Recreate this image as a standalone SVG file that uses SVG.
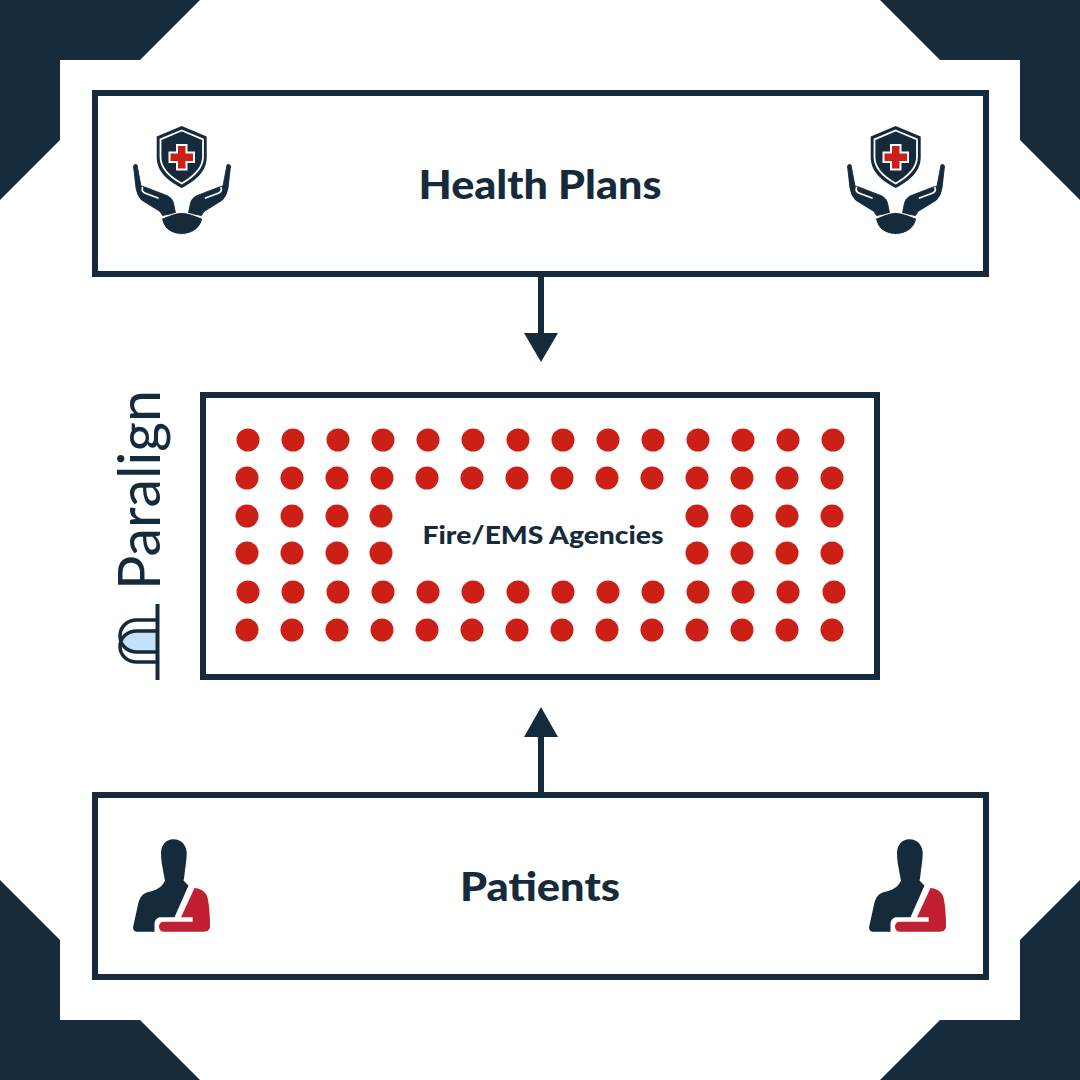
<svg xmlns="http://www.w3.org/2000/svg" xmlns:xlink="http://www.w3.org/1999/xlink" width="1080" height="1080" viewBox="0 0 1080 1080">
<style>
.nv{fill:#152b3c}
.rd{fill:#cc2016}
.box{fill:#fff;stroke:#152b3c;stroke-width:6}
.lbl{font-family:"Lato","Liberation Sans",sans-serif;font-weight:900;fill:#152b3c;text-anchor:middle}
.dots circle{fill:#cc2016}
</style>
<defs>
<polygon id="corner" points="0,0 200,0 140,60 60,60 60,140 0,200"/>
<path id="hand" stroke="#152b3c" stroke-width="0.900" stroke-linejoin="round" d="M133.500 166Q135 163 137 165L141 186L146 187.500L168 196Q172.500 198.500 173.500 203L175.500 213L162.500 215.500Q161 211 156 209L141.500 200Q137 195 136 188Z"/>
<g id="planIcon">
<path class="nv" d="M181.700 126L206.700 136.500V157C206.700 172 195 181 181.700 188C168 181 156.700 172 156.700 157V136.500Z"/>
<path fill="none" stroke="#fff" stroke-width="1.800" d="M181.700 130.500L203 139.300V157C203 169 193 177 181.700 183.500C170 177 160.500 169 160.500 157V139.300Z"/>
<path fill="#fff" d="M176 144H187.500V151.500H195V163H187.500V170.500H176V163H168.500V151.500H176Z"/>
<path class="rd" d="M178 146H185.500V153.500H193V161H185.500V168.500H178V161H170.500V153.500H178Z"/>
<use xlink:href="#hand" class="nv"/>
<use xlink:href="#hand" class="nv" transform="translate(364 0) scale(-1 1)"/>
<path d="M142.500 187.500Q141 192 146 193.500L158 198M221 187.500Q222.500 192 217.500 193.500L205.500 198" stroke="#fff" stroke-width="1.700" stroke-linecap="round" fill="none"/>
<path class="nv" d="M161.500 218.500C168 216 175 212.500 181.700 212.500C188.500 212.500 196 216 202.700 218.500C201 228 192 234.500 181.700 234.500C171 234.500 163 228 161.500 218.500Z" stroke="#fff" stroke-width="1"/>
</g>
<g id="patientIcon">
<path class="nv" d="M173.500 839.300C182 839.300 186.700 846 186.700 853.500C186.700 860 185.500 866 185 870C184.500 875 184 879 183.500 880.500L188.500 885.500L174.500 917.300H160C156 918 154.500 921 154.500 925V931.700H137C134 931.700 132.500 929 133.300 926L138.300 903.300C140 897 143 893.500 148 892C155 890.500 162 888 165 880.500C164 876 163.500 873 163 870C162 865 161 860 161 853.500C161 846 165 839.300 173.500 839.300Z"/>
<path fill="#c02030" d="M194.500 888C200 888.500 205 891 207 896C209 902 210 915 210 926C210 930 207.500 931.700 204 931.700H164C160.500 931.700 159 929 159 926.500C159 923.500 161 921.700 164 921.700H192.700V917.300H181Z"/>
</g>
</defs>
<rect width="1080" height="1080" fill="#fff"/>
<g id="corners" class="nv">
<use xlink:href="#corner"/>
<use xlink:href="#corner" transform="translate(1080 0) scale(-1 1)"/>
<use xlink:href="#corner" transform="translate(0 1080) scale(1 -1)"/>
<use xlink:href="#corner" transform="translate(1080 1080) scale(-1 -1)"/>
</g>
<g id="connectors">
<rect class="nv" x="538" y="277" width="6" height="58"/>
<polygon class="nv" points="524,333 558,333 541,362"/>
<rect class="nv" x="538" y="735" width="6" height="58"/>
<polygon class="nv" points="524,737 558,737 541,707"/>
</g>
<g id="health-plans">
<rect class="box" x="95" y="93" width="891" height="181"/>
<use xlink:href="#planIcon"/>
<use xlink:href="#planIcon" x="714"/>
<text class="lbl" x="540" y="199" font-size="39" textLength="243" lengthAdjust="spacingAndGlyphs">Health Plans</text>
</g>
<g id="agencies">
<rect class="box" x="203" y="395" width="674" height="282"/>
<text class="lbl" x="543" y="544" font-size="25" textLength="241" lengthAdjust="spacingAndGlyphs">Fire/EMS Agencies</text>
<g class="dots">
<g id="r1"><circle cx="248" cy="440" r="11.500"/><circle cx="293" cy="440" r="11.500"/><circle cx="338" cy="440" r="11.500"/><circle cx="383" cy="440" r="11.500"/><circle cx="428" cy="440" r="11.500"/><circle cx="473" cy="440" r="11.500"/><circle cx="518" cy="440" r="11.500"/><circle cx="563" cy="440" r="11.500"/><circle cx="608" cy="440" r="11.500"/><circle cx="653" cy="440" r="11.500"/><circle cx="698" cy="440" r="11.500"/><circle cx="743" cy="440" r="11.500"/><circle cx="788" cy="440" r="11.500"/><circle cx="833" cy="440" r="11.500"/></g>
<g id="r2"><circle cx="247" cy="478" r="11.500"/><circle cx="292" cy="478" r="11.500"/><circle cx="337" cy="478" r="11.500"/><circle cx="382" cy="478" r="11.500"/><circle cx="427" cy="478" r="11.500"/><circle cx="472" cy="478" r="11.500"/><circle cx="517" cy="478" r="11.500"/><circle cx="562" cy="478" r="11.500"/><circle cx="607" cy="478" r="11.500"/><circle cx="652" cy="478" r="11.500"/><circle cx="697" cy="478" r="11.500"/><circle cx="742" cy="478" r="11.500"/><circle cx="787" cy="478" r="11.500"/><circle cx="832" cy="478" r="11.500"/></g>
<g id="r3"><circle cx="247" cy="516" r="11.500"/><circle cx="292" cy="516" r="11.500"/><circle cx="337" cy="516" r="11.500"/><circle cx="381" cy="516" r="11.500"/><circle cx="697" cy="516" r="11.500"/><circle cx="742" cy="516" r="11.500"/><circle cx="787" cy="516" r="11.500"/><circle cx="832" cy="516" r="11.500"/></g>
<g id="r4"><circle cx="247" cy="553" r="11.500"/><circle cx="292" cy="553" r="11.500"/><circle cx="337" cy="553" r="11.500"/><circle cx="381" cy="553" r="11.500"/><circle cx="697" cy="553" r="11.500"/><circle cx="742" cy="553" r="11.500"/><circle cx="787" cy="553" r="11.500"/><circle cx="832" cy="553" r="11.500"/></g>
<g id="r5"><circle cx="248" cy="592" r="11.500"/><circle cx="293" cy="592" r="11.500"/><circle cx="338" cy="592" r="11.500"/><circle cx="383" cy="592" r="11.500"/><circle cx="428" cy="592" r="11.500"/><circle cx="473" cy="592" r="11.500"/><circle cx="518" cy="592" r="11.500"/><circle cx="563" cy="592" r="11.500"/><circle cx="608" cy="592" r="11.500"/><circle cx="653" cy="592" r="11.500"/><circle cx="698" cy="592" r="11.500"/><circle cx="743" cy="592" r="11.500"/><circle cx="788" cy="592" r="11.500"/><circle cx="834" cy="592" r="11.500"/></g>
<g id="r6"><circle cx="247" cy="630" r="11.500"/><circle cx="292" cy="630" r="11.500"/><circle cx="337" cy="630" r="11.500"/><circle cx="382" cy="630" r="11.500"/><circle cx="427" cy="630" r="11.500"/><circle cx="472" cy="630" r="11.500"/><circle cx="517" cy="630" r="11.500"/><circle cx="562" cy="630" r="11.500"/><circle cx="607" cy="630" r="11.500"/><circle cx="652" cy="630" r="11.500"/><circle cx="697" cy="630" r="11.500"/><circle cx="742" cy="630" r="11.500"/><circle cx="787" cy="630" r="11.500"/><circle cx="832" cy="630" r="11.500"/></g>
</g>
</g>
<g id="paralign">
<text transform="translate(160 590) rotate(-90)" font-family="Lato,'Liberation Sans',sans-serif" font-weight="400" font-size="58" fill="#152b3c" textLength="200" lengthAdjust="spacingAndGlyphs">Paralign</text>
<path d="M157 631H137C130 631 125 635 122 641C125 647 130 652 137 652H157Z" fill="#c5e1f8"/>
<path d="M157 620H137C127 620 120 627 120 636C120 645 127 652 137 652H157M157 631H137C127 631 120 638 120 646.500C120 655 127 662 137 662H157" fill="none" stroke="#152b3c" stroke-width="3.500"/>
<path d="M157.500 604V680" stroke="#152b3c" stroke-width="4" fill="none"/>
</g>
<g id="patients">
<rect class="box" x="95" y="795" width="891" height="182"/>
<use xlink:href="#patientIcon"/>
<use xlink:href="#patientIcon" x="736"/>
<text class="lbl" x="540" y="901" font-size="39" textLength="160" lengthAdjust="spacingAndGlyphs">Patients</text>
</g>
</svg>
